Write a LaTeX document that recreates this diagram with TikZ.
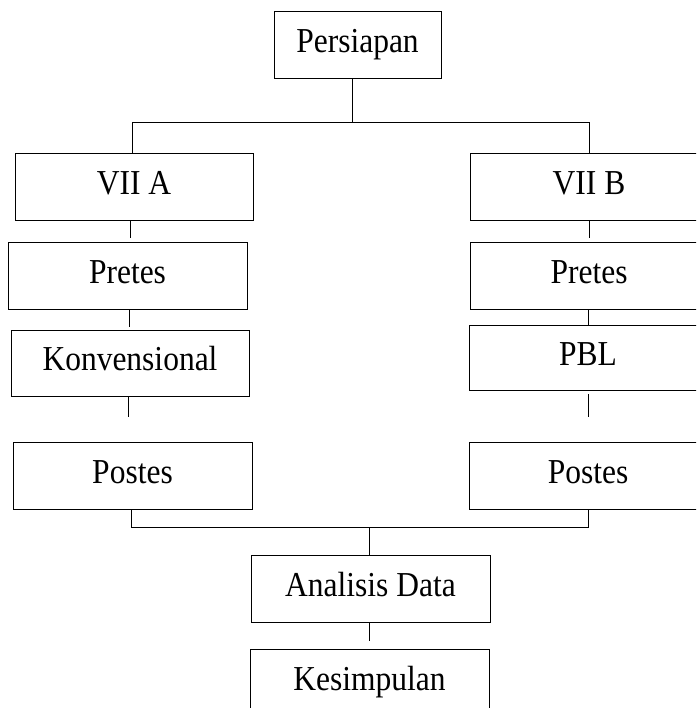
\documentclass[tikz,border=0pt]{standalone}
\usepackage{fontspec}
\setmainfont[FakeStretch=0.9]{Liberation Serif}
\begin{document}
\begin{tikzpicture}[x=1pt,y=-1pt,
  box/.style={draw, line width=1pt, inner sep=0pt, minimum height=67pt, minimum width=238pt,
    font=\fontsize{35}{40}\selectfont, text height=22pt, text depth=7pt},
  link/.style={line width=1pt}]
\path[use as bounding box, clip] (0,0) rectangle (696,708);
% nodes
\node[box, minimum width=167pt] (persiapan) at (357.5,45.5) {Persiapan};
\node[box] (vA) at (134,187.5) {VII A};
\node[box] (vB) at (589,187.5) {VII B};
\node[box, minimum width=239pt, minimum height=66pt] (preA) at (127.5,276) {Pretes};
\node[box, minimum height=66pt] (preB) at (589,276) {Pretes};
\node[box, minimum height=66pt] (kon) at (130,363) {Konvensional};
\node[box, minimum height=65pt] (pbl) at (588,357.5) {PBL};
\node[box, minimum width=239pt] (posA) at (132.5,475.5) {Postes};
\node[box] (posB) at (588,475.5) {Postes};
\node[box, minimum width=239pt] (ana) at (370.5,588.5) {Analisis Data};
\node[box, minimum width=239pt] (kes) at (369.5,682.5) {Kesimpulan};
% coordinates
\coordinate (jTop) at (352,123);
\coordinate (hL) at (132,123);
\coordinate (hR) at (589,123);
\coordinate (eA1) at (130,238);
\coordinate (eA2) at (129,327);
\coordinate (eA3) at (128,417);
\coordinate (eB1) at (589,238);
\coordinate (eB3s) at (588,394);
\coordinate (eB3) at (588,417);
\coordinate (bL) at (131,527);
\coordinate (bR) at (588,527);
\coordinate (jB) at (369,527);
\coordinate (eK) at (369,641);
% connectors
\draw[link] (persiapan.south -| jTop) -- (jTop);
\draw[link] (vA.north -| hL) -- (hL) -- (hR) -- (vB.north -| hR);
\draw[link] (vA.south -| eA1) -- (eA1);
\draw[link] (preA.south -| eA2) -- (eA2);
\draw[link] (kon.south -| eA3) -- (eA3);
\draw[link] (vB.south -| eB1) -- (eB1);
\draw[link] (preB.south -| pbl.north) -- (pbl.north);
\draw[link] (eB3s) -- (eB3);
\draw[link] (posA.south -| bL) -- (bL) -- (bR) -- (posB.south -| bR);
\draw[link] (jB) -- (ana.north -| jB);
\draw[link] (ana.south -| eK) -- (eK);
\end{tikzpicture}
\end{document}
